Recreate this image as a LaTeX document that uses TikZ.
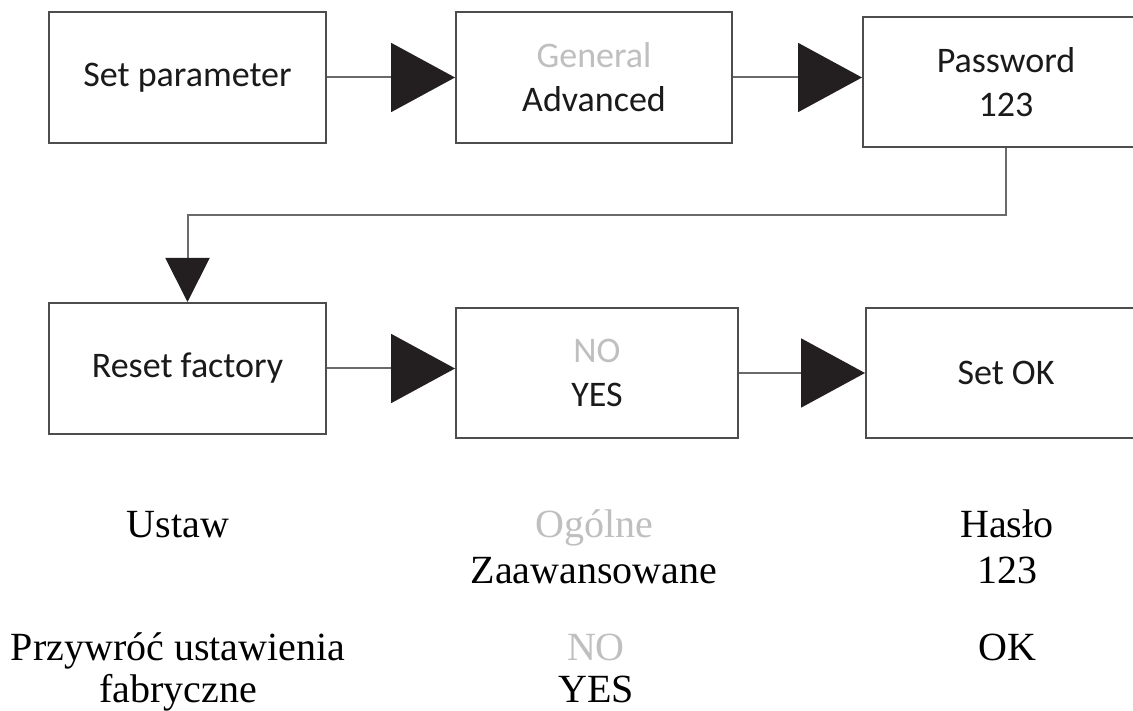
\documentclass[tikz,border=0pt]{standalone}
\usepackage{fontspec}
\setmainfont{Liberation Serif}
\newfontfamily\boxfont{Carlito}
\usetikzlibrary{arrows.meta}
\definecolor{boxline}{HTML}{4D4D4D}
\definecolor{connc}{HTML}{6A6A6A}
\definecolor{tipc}{HTML}{231F20}
\definecolor{lightt}{HTML}{BFBFBF}
\definecolor{txt}{HTML}{1A1A1A}
\begin{document}
\begin{tikzpicture}[x=1pt,y=-1pt,
  stepbox/.style={draw=boxline, line width=2pt, inner sep=0pt, align=center,
    font=\boxfont\fontsize{36}{44}\selectfont, text=txt},
  conn/.style={draw=connc, line width=2pt},
  bigtip/.style={-{Triangle[length=64pt,width=69pt,color=tipc]}},
  smalltip/.style={-{Triangle[length=44pt,width=44pt,color=tipc]}},
  lbl/.style={font=\fontsize{40}{47}\selectfont, anchor=base, inner sep=0pt, text=black},
  lbllight/.style={lbl, text=lightt}
]
\useasboundingbox (0,0) rectangle (1133,711);
\clip (0,0) rectangle (1133,711);
\fill[white] (0,0) rectangle (1133,711);

\node[stepbox, minimum width=277pt, minimum height=131pt] (b1) at (187.5,77.5) {Set parameter};
\node[stepbox, minimum width=276pt, minimum height=131pt] (b2) at (594,77.5) {\textcolor{lightt}{General}\\Advanced};
\node[stepbox, minimum width=286pt, minimum height=130pt] (b3) at (1006,82) {Password\\123};
\node[stepbox, minimum width=277pt, minimum height=131pt] (b4) at (187.5,368.5) {Reset factory};
\node[stepbox, minimum width=282pt, minimum height=130pt] (b5) at (597,373) {\textcolor{lightt}{NO}\\YES};
\node[stepbox, minimum width=280pt, minimum height=130pt] (b6) at (1006,373) {Set OK};

\draw[conn, bigtip] (b1.east) -- (b2.west);
\draw[conn, bigtip] (b2.east) -- (b2.east -| b3.west);
\draw[conn, smalltip] (b3.south) -- ++(0,67) -| (b4.north);
\draw[conn, bigtip] (b4.east) -- (b4.east -| b5.west);
\draw[conn, bigtip] (b5.east) -- (b5.east -| b6.west);

\node[lbl] (l1) at (178,537) {Ustaw};
\node[lbllight] (l2a) at (594,537) {Ogólne};
\node[lbl] (l2b) at (594,583) {Zaawansowane};
\node[lbl] (l3a) at (1007,537) {Hasło};
\node[lbl] (l3b) at (1007,583) {123};
\node[lbl] (l4a) at (178,660) {Przywróć ustawienia};
\node[lbl] (l4b) at (178,702) {fabryczne};
\node[lbllight] (l5a) at (596,660) {NO};
\node[lbl] (l5b) at (596,702) {YES};
\node[lbl] (l6) at (1007,660) {OK};
\end{tikzpicture}
\end{document}
